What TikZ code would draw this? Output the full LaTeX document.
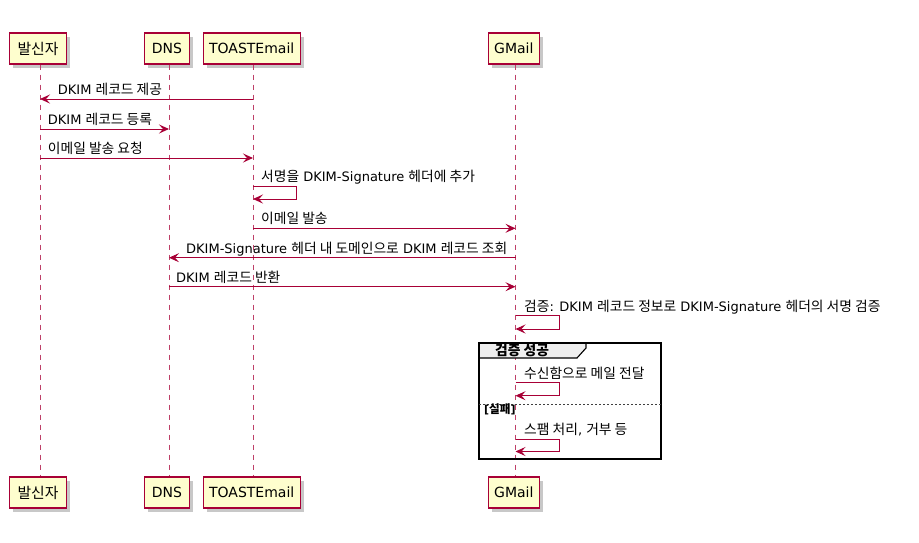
\documentclass[tikz,border=0pt]{standalone}
\usepackage{fontspec}
\setmainfont{DejaVu Sans}
\newfontfamily\kr{Noto Sans CJK KR}[Scale=1.06]
\usetikzlibrary{arrows.meta,shadows}
\definecolor{crim}{HTML}{A80036}
\definecolor{pfill}{HTML}{FEFECE}
\definecolor{tabfill}{HTML}{EEEEEE}
\newcommand\K[1]{{\kr #1}}
\tikzset{
 part/.style={draw=crim, fill=pfill, line width=1.1pt, inner sep=0pt, minimum height=31pt,
   font=\fontsize{14}{16}\selectfont,
   drop shadow={shadow xshift=3.5pt, shadow yshift=-3.5pt, opacity=0.3, fill=black!70}},
 life/.style={draw=crim!75, line width=0.8pt, dash pattern=on 5pt off 5pt},
 msg/.style={draw=crim, line width=0.9pt, -{Stealth[length=10pt,width=9pt,inset=4pt]}},
 lbl/.style={anchor=base west, inner sep=0pt, font=\fontsize{13}{15}\selectfont},
 framebox/.style={draw=black, line width=1.4pt},
 tabbox/.style={draw=black, line width=1.1pt, fill=tabfill},
 sepline/.style={draw=black!75, line width=0.8pt, dash pattern=on 2pt off 2pt},
}
\begin{document}
\begin{tikzpicture}[x=1pt,y=-1pt]
\useasboundingbox[fill=white] (0,0) rectangle (919,542);
% participants (top)
\node[part, minimum width=57pt]   (sT) at (38,48.5)    {\K{발신자}};
\node[part, minimum width=44.6pt] (dT) at (167,48.5)   {DNS};
\node[part, minimum width=96.7pt] (tT) at (251.7,48.5) {TOASTEmail};
\node[part, minimum width=51pt]   (gT) at (513.8,48.5) {GMail};
% participants (bottom)
\node[part, minimum width=57pt]   (sB) at (38,492.5)    {\K{발신자}};
\node[part, minimum width=44.6pt] (dB) at (167,492.5)   {DNS};
\node[part, minimum width=96.7pt] (tB) at (251.7,492.5) {TOASTEmail};
\node[part, minimum width=51pt]   (gB) at (513.8,492.5) {GMail};
% lifeline coordinates
\coordinate (sl) at ([xshift=2pt]sT.south);
\coordinate (dl) at ([xshift=2pt]dT.south);
\coordinate (tl) at ([xshift=1.3pt]tT.south);
\coordinate (gl) at ([xshift=1.7pt]gT.south);
% lifelines
\draw[life] (sl) -- ([xshift=2pt]sB.north);
\draw[life] (dl) -- ([xshift=2pt]dB.north);
\draw[life] (tl) -- ([xshift=1.3pt]tB.north);
\draw[life] (gl) -- ([xshift=1.7pt]gB.north);
% messages
\draw[msg] (tl|-0,99) -- (sl|-0,99);
\node[lbl] (m1) at (57.7,94.3) {DKIM \K{레코드 제공}};
\draw[msg] (sl|-0,129) -- (dl|-0,129);
\node[lbl] (m2) at (47.7,124.3) {DKIM \K{레코드 등록}};
\draw[msg] (sl|-0,158) -- (tl|-0,158);
\node[lbl] (m3) at (47.7,153.3) {\K{이메일 발송 요청}};
\draw[msg] (tl|-0,186) -- (296,186) -- (296,199) -- (tl|-0,199);
\node[lbl] (m4) at (261,181.7) {\K{서명을} DKIM-Signature \K{헤더에 추가}};
\draw[msg] (tl|-0,228.3) -- (gl|-0,228.3);
\node[lbl] (m5) at (261,223.6) {\K{이메일 발송}};
\draw[msg] (gl|-0,257.7) -- (dl|-0,257.7);
\node[lbl] (m6) at (186,253) {DKIM-Signature \K{헤더 내 도메인으로} DKIM \K{레코드 조회}};
\draw[msg] (dl|-0,286.7) -- (gl|-0,286.7);
\node[lbl] (m7) at (176,282) {DKIM \K{레코드 반환}};
\draw[msg] (gl|-0,315) -- (559,315) -- (559,329) -- (gl|-0,329);
\node[lbl] (m8) at (524,311) {\K{검증}: DKIM \K{레코드 정보로} DKIM-Signature \K{헤더의 서명 검증}};
% alt frame
\draw[tabbox] (479,343) -- (586,343) -- (586,348) -- (577,358) -- (479,358);
\draw[framebox] (479,343) rectangle (661,459);
\node[lbl, font=\fontsize{13}{15}\selectfont\bfseries] (alt) at (495,355.5) {\K{\bfseries 검증 성공}};
\draw[msg] (gl|-0,382.3) -- (559,382.3) -- (559,395.7) -- (gl|-0,395.7);
\node[lbl] (m9) at (524,378.3) {\K{수신함으로 메일 전달}};
\draw[sepline] (479,404) -- (661,404);
\node[lbl, font=\fontsize{11}{13}\selectfont\bfseries] (els) at (484,413.5) {[\K{\bfseries 실패}]};
\draw[msg] (gl|-0,439.3) -- (559,439.3) -- (559,451.5) -- (gl|-0,451.5);
\node[lbl] (m10) at (524,434.5) {\K{스팸 처리}, \K{거부 등}};
\end{tikzpicture}
\end{document}
